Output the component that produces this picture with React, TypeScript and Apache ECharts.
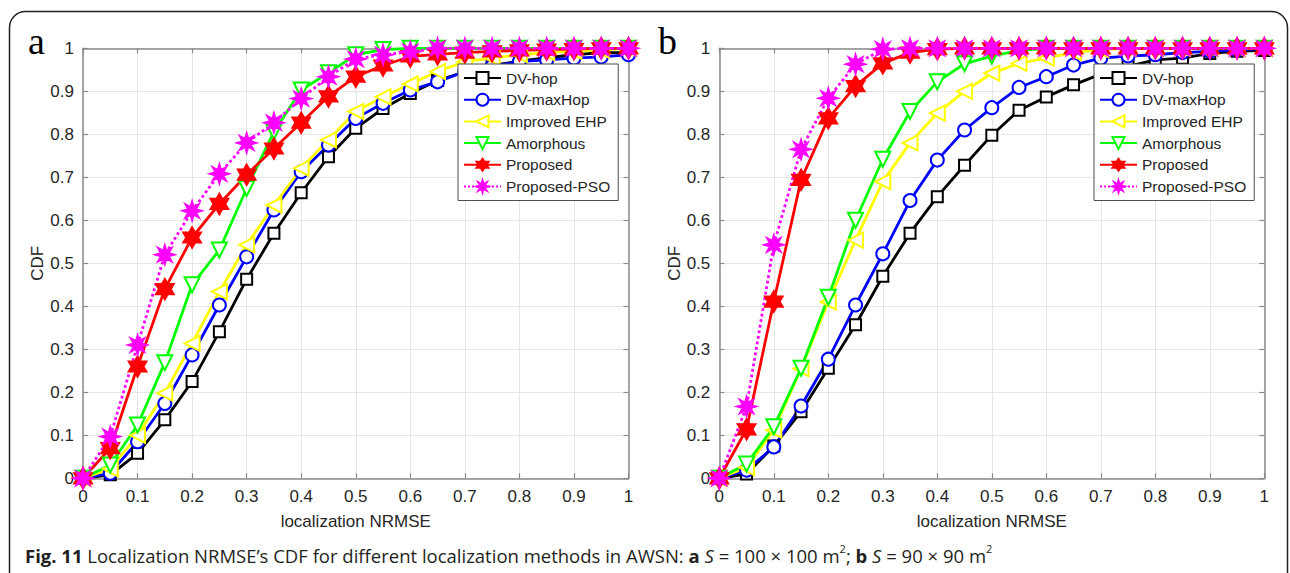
import React, { useEffect, useRef } from "react";
import * as echarts from "echarts";

const xValues = [0, 0.05, 0.1, 0.15, 0.2, 0.25, 0.3, 0.35, 0.4, 0.45, 0.5, 0.55, 0.6, 0.65, 0.7, 0.75, 0.8, 0.85, 0.9, 0.95, 1];
const seriesNames = ["DV-hop", "DV-maxHop", "Improved EHP", "Amorphous", "Proposed", "Proposed-PSO"];

// Panel a: S = 100 x 100 m^2
const aDvHop = [0, 0.008, 0.058, 0.136, 0.225, 0.341, 0.463, 0.57, 0.664, 0.748, 0.814, 0.86, 0.895, 0.925, 0.945, 0.96, 0.97, 0.978, 0.985, 0.99, 0.99];
const aDvMaxHop = [0, 0.012, 0.085, 0.174, 0.287, 0.403, 0.515, 0.624, 0.713, 0.775, 0.837, 0.872, 0.903, 0.922, 0.946, 0.958, 0.969, 0.973, 0.977, 0.98, 0.985];
const aImprovedEHP = [0, 0.022, 0.1, 0.198, 0.314, 0.434, 0.543, 0.635, 0.721, 0.787, 0.853, 0.887, 0.917, 0.946, 0.969, 0.977, 0.985, 0.99, 0.993, 0.996, 1];
const aAmorphous = [0, 0.031, 0.124, 0.269, 0.45, 0.531, 0.674, 0.806, 0.903, 0.943, 0.985, 0.997, 1, 1, 1, 1, 1, 1, 1, 1, 1];
const aProposed = [0, 0.07, 0.26, 0.44, 0.56, 0.638, 0.706, 0.767, 0.827, 0.888, 0.934, 0.96, 0.981, 0.986, 0.99, 0.993, 0.995, 0.997, 0.998, 1, 1];
const aProposedPSO = [0, 0.097, 0.31, 0.52, 0.622, 0.708, 0.78, 0.827, 0.883, 0.934, 0.975, 0.985, 0.992, 1, 1, 1, 1, 1, 1, 1, 1];

// Panel b: S = 90 x 90 m^2
const bDvHop = [0, 0.01, 0.075, 0.155, 0.256, 0.357, 0.47, 0.57, 0.655, 0.728, 0.798, 0.856, 0.887, 0.915, 0.94, 0.958, 0.973, 0.977, 0.988, 0.993, 0.995];
const bDvMaxHop = [0, 0.019, 0.073, 0.168, 0.277, 0.403, 0.522, 0.646, 0.74, 0.81, 0.862, 0.909, 0.934, 0.961, 0.977, 0.982, 0.985, 0.99, 0.993, 0.996, 1];
const bImprovedEHP = [0, 0.025, 0.112, 0.255, 0.41, 0.554, 0.69, 0.78, 0.849, 0.9, 0.942, 0.965, 0.977, 0.99, 0.997, 1, 1, 1, 1, 1, 1];
const bAmorphous = [0, 0.033, 0.12, 0.256, 0.421, 0.6, 0.742, 0.853, 0.922, 0.964, 0.982, 0.995, 1, 1, 1, 1, 1, 1, 1, 1, 1];
const bProposed = [0, 0.114, 0.411, 0.694, 0.837, 0.912, 0.965, 0.99, 0.998, 1, 1, 1, 1, 1, 1, 1, 1, 1, 1, 1, 1];
const bProposedPSO = [0, 0.167, 0.543, 0.765, 0.884, 0.963, 0.998, 1, 1, 1, 1, 1, 1, 1, 1, 1, 1, 1, 1, 1, 1];

const panelA = [aDvHop, aDvMaxHop, aImprovedEHP, aAmorphous, aProposed, aProposedPSO];
const panelB = [bDvHop, bDvMaxHop, bImprovedEHP, bAmorphous, bProposed, bProposedPSO];

function starPath(points: number, inner: number): string {
  const parts: string[] = [];
  for (let i = 0; i < points * 2; i++) {
    const r = i % 2 === 0 ? 1 : inner;
    const a = -Math.PI / 2 + (i * Math.PI) / points;
    const x = 1 + r * Math.cos(a);
    const y = 1 + r * Math.sin(a);
    parts.push((i === 0 ? "M" : "L") + x.toFixed(3) + " " + y.toFixed(3));
  }
  return "path://" + parts.join(" ") + " Z";
}

const styles = [
  { color: "#000000", symbol: "emptyRect", size: 11, rotate: 0, type: "solid" },
  { color: "#0000ff", symbol: "emptyCircle", size: 13, rotate: 0, type: "solid" },
  { color: "#ffff00", symbol: "emptyTriangle", size: 15, rotate: 90, type: "solid" },
  { color: "#00ff00", symbol: "emptyTriangle", size: 15, rotate: 180, type: "solid" },
  { color: "#ff0000", symbol: starPath(6, 0.577), size: 20, rotate: 0, type: "solid" },
  { color: "#ff00ff", symbol: starPath(8, 0.45), size: 18, rotate: 0, type: "dotted" },
];

const FONT = "Liberation Sans";
const AX_COLOR = "#8a8a8a";
const TXT = "#262626";

function makeAxes(gridIndex: number) {
  const common = {
    gridIndex,
    type: "value",
    min: 0,
    max: 1,
    interval: 0.1,
    axisLine: { show: true, onZero: false, lineStyle: { color: AX_COLOR, width: 1.5 } },
    axisTick: { show: true, inside: true, length: 5, lineStyle: { color: AX_COLOR, width: 1.2 } },
  };
  const x = [
    {
      ...common,
      position: "bottom",
      name: "localization NRMSE",
      nameLocation: "middle",
      nameGap: 35,
      nameTextStyle: { fontFamily: FONT, fontSize: 17, color: TXT },
      axisLabel: { fontFamily: FONT, fontSize: 17, color: TXT, margin: 10 },
      splitLine: { show: true, lineStyle: { color: "#e6e6e6", width: 1 } },
    },
    {
      ...common,
      position: "top",
      axisLabel: { show: false },
      splitLine: { show: false },
    },
  ];
  const y = [
    {
      ...common,
      position: "left",
      name: "CDF",
      nameLocation: "middle",
      nameGap: 30,
      nameRotate: 90,
      nameTextStyle: { fontFamily: FONT, fontSize: 17, color: TXT },
      axisLabel: { fontFamily: FONT, fontSize: 17, color: TXT, margin: 9 },
      splitLine: { show: true, lineStyle: { color: "#e6e6e6", width: 1 } },
    },
    {
      ...common,
      position: "right",
      axisLabel: { show: false },
      splitLine: { show: false },
    },
  ];
  return { x, y };
}

function makeSeries(panel: number[][], axisIndex: number) {
  return panel.map((vals, i) => {
    const s = styles[i];
    return {
      name: seriesNames[i],
      type: "line",
      xAxisIndex: axisIndex,
      yAxisIndex: axisIndex,
      data: vals.map((v, k) => [xValues[k], v]),
      symbol: s.symbol,
      symbolSize: s.size,
      symbolRotate: s.rotate,
      symbolKeepAspect: true,
      showAllSymbol: true,
      lineStyle: { color: s.color, width: 2.8, type: s.type },
      itemStyle: {
        color: s.color,
        borderColor: s.color,
        borderWidth: 2.2,
      },
      emphasis: { disabled: true },
    };
  });
}

function makeLegend(left: number) {
  return {
    data: seriesNames,
    orient: "vertical",
    left,
    top: 64,
    padding: [6, 8, 6, 5],
    itemWidth: 37,
    itemHeight: 15,
    itemGap: 5.7,
    backgroundColor: "#ffffff",
    borderColor: "#4d4d4d",
    borderWidth: 1,
    borderRadius: 0,
    textStyle: { fontFamily: FONT, fontSize: 15.5, color: TXT },
    selectedMode: false,
  };
}

export default function App() {
  const ref = useRef<HTMLDivElement>(null);
  useEffect(() => {
    if (!ref.current) return;
    const chart = echarts.init(ref.current, null, { renderer: "svg" });
    const axA = makeAxes(0);
    const axB = makeAxes(1);
    const option = {
      animation: false,
      backgroundColor: "#ffffff",
      grid: [
        { left: 83, top: 48.3, width: 545.5, height: 430 },
        { left: 719.3, top: 48.3, width: 545, height: 430 },
      ],
      xAxis: [axA.x[0], axB.x[0], axA.x[1], axB.x[1]],
      yAxis: [axA.y[0], axB.y[0], axA.y[1], axB.y[1]],
      legend: [makeLegend(458), makeLegend(1094)],
      series: [...makeSeries(panelA, 0), ...makeSeries(panelB, 1)],
      graphic: [
        {
          type: "rect",
          shape: { x: 9.5, y: 11.5, width: 1278, height: 620, r: 16 },
          style: { fill: "none", stroke: "#231f20", lineWidth: 1.5 },
          silent: true,
        },
        {
          type: "text",
          left: 28,
          top: 22,
          style: { text: "a", font: "38px 'Liberation Serif', 'Times New Roman', serif", fill: "#000" },
        },
        {
          type: "text",
          left: 658,
          top: 22,
          style: { text: "b", font: "38px 'Liberation Serif', 'Times New Roman', serif", fill: "#000" },
        },
        {
          type: "text",
          left: 25,
          top: 543,
          style: {
            text:
              "{b|Fig. 11} Localization NRMSE’s CDF for different localization methods in AWSN: {b|a} {i|S} = 100 × 100 m{sup|2}; {b|b} {i|S} = 90 × 90 m{sup|2}",
            fontFamily: "Open Sans",
            fontSize: 18.5,
            fill: "#231f20",
            lineHeight: 24,
            rich: {
              b: { fontFamily: "Open Sans", fontSize: 18.5, fontWeight: "bold", fill: "#231f20", lineHeight: 24 },
              i: { fontFamily: "Open Sans", fontSize: 18.5, fontStyle: "italic", fill: "#231f20", lineHeight: 24 },
              sup: { fontFamily: "Open Sans", fontSize: 11, fill: "#231f20", lineHeight: 24, verticalAlign: "top" },
            },
          },
        },
      ],
    };
    chart.setOption(option as any);
    return () => chart.dispose();
  }, []);
  return (
    <div
      ref={ref}
      style={{ position: "fixed", left: 0, top: 0, width: 1290, height: 573 }}
    />
  );
}
